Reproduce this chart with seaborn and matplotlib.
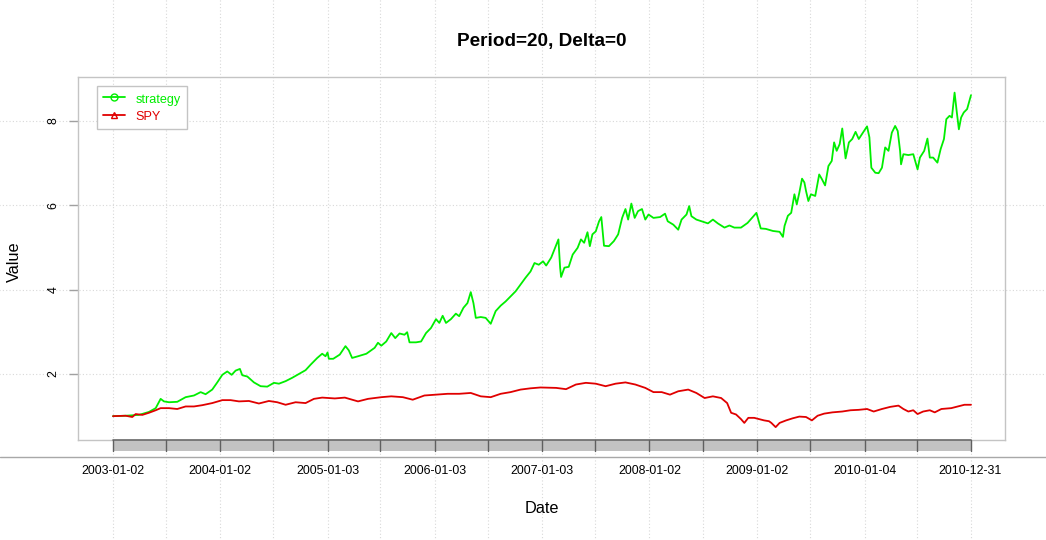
import pandas as pd
import seaborn as sns
import matplotlib.pyplot as plt
from matplotlib.lines import Line2D
from matplotlib.patches import Rectangle

# values (x as decimal years)
strategy_t = [2003.000, 2003.118, 2003.242, 2003.335, 2003.398, 2003.444, 2003.475, 2003.522, 2003.599, 2003.677,
              2003.755, 2003.817, 2003.863, 2003.925, 2003.972, 2004.019, 2004.065, 2004.106, 2004.143, 2004.183,
              2004.205, 2004.252, 2004.314, 2004.376, 2004.438, 2004.500, 2004.547, 2004.609, 2004.671, 2004.733,
              2004.795, 2004.842, 2004.904, 2004.950, 2004.981, 2005.000, 2005.012, 2005.053, 2005.114, 2005.167,
              2005.198, 2005.229, 2005.284, 2005.362, 2005.439, 2005.470, 2005.501, 2005.547, 2005.594, 2005.631,
              2005.671, 2005.717, 2005.742, 2005.764, 2005.825, 2005.872, 2005.918, 2005.964, 2006.011, 2006.042,
              2006.073, 2006.104, 2006.150, 2006.196, 2006.227, 2006.267, 2006.304, 2006.335, 2006.360, 2006.382,
              2006.428, 2006.474, 2006.521, 2006.567, 2006.614, 2006.660, 2006.706, 2006.753, 2006.799, 2006.845,
              2006.892, 2006.929, 2006.969, 2007.009, 2007.038, 2007.085, 2007.115, 2007.152, 2007.168, 2007.177,
              2007.208, 2007.248, 2007.285, 2007.331, 2007.362, 2007.392, 2007.423, 2007.445, 2007.469, 2007.500,
              2007.531, 2007.552, 2007.577, 2007.623, 2007.669, 2007.709, 2007.746, 2007.777, 2007.802, 2007.832,
              2007.863, 2007.894, 2007.931, 2007.962, 2007.992, 2008.038, 2008.100, 2008.146, 2008.171, 2008.223,
              2008.269, 2008.300, 2008.346, 2008.371, 2008.392, 2008.438, 2008.485, 2008.546, 2008.592, 2008.638,
              2008.700, 2008.746, 2008.792, 2008.854, 2008.915, 2008.971, 2008.998, 2009.038, 2009.085, 2009.152,
              2009.214, 2009.245, 2009.260, 2009.291, 2009.322, 2009.352, 2009.374, 2009.398, 2009.423, 2009.445,
              2009.460, 2009.482, 2009.506, 2009.546, 2009.583, 2009.608, 2009.638, 2009.669, 2009.700, 2009.722,
              2009.746, 2009.774, 2009.798, 2009.829, 2009.860, 2009.891, 2009.922, 2009.952, 2009.983, 2010.029,
              2010.051, 2010.069, 2010.106, 2010.137, 2010.168, 2010.198, 2010.229, 2010.260, 2010.291, 2010.315,
              2010.337, 2010.346, 2010.368, 2010.414, 2010.460, 2010.500, 2010.522, 2010.562, 2010.592, 2010.614,
              2010.645, 2010.685, 2010.715, 2010.746, 2010.768, 2010.798, 2010.820, 2010.845, 2010.866, 2010.885,
              2010.906, 2010.931, 2010.962, 2010.998]
strategy_v = [1.00, 1.01, 1.03, 1.10, 1.19, 1.41, 1.35, 1.33, 1.34, 1.45,
              1.49, 1.57, 1.52, 1.63, 1.80, 1.98, 2.06, 1.98, 2.08, 2.12,
              1.97, 1.94, 1.80, 1.71, 1.70, 1.79, 1.77, 1.83, 1.91, 2.00,
              2.09, 2.22, 2.38, 2.48, 2.42, 2.51, 2.36, 2.36, 2.46, 2.66,
              2.56, 2.38, 2.42, 2.48, 2.62, 2.74, 2.67, 2.77, 2.97, 2.85,
              2.96, 2.93, 2.99, 2.75, 2.75, 2.77, 2.97, 3.09, 3.30, 3.21,
              3.38, 3.21, 3.30, 3.43, 3.37, 3.57, 3.68, 3.94, 3.68, 3.33,
              3.35, 3.33, 3.19, 3.49, 3.62, 3.72, 3.84, 3.96, 4.12, 4.28,
              4.43, 4.63, 4.59, 4.67, 4.57, 4.76, 4.95, 5.19, 4.52, 4.30,
              4.52, 4.54, 4.83, 4.99, 5.19, 5.11, 5.36, 5.03, 5.31, 5.38,
              5.62, 5.72, 5.04, 5.03, 5.15, 5.31, 5.70, 5.91, 5.66, 6.04,
              5.70, 5.86, 5.91, 5.66, 5.78, 5.70, 5.72, 5.80, 5.62, 5.54,
              5.42, 5.66, 5.78, 5.98, 5.74, 5.66, 5.62, 5.57, 5.66, 5.57,
              5.47, 5.52, 5.47, 5.47, 5.58, 5.74, 5.82, 5.45, 5.44, 5.39,
              5.37, 5.25, 5.51, 5.75, 5.82, 6.26, 6.02, 6.30, 6.63, 6.54,
              6.34, 6.10, 6.26, 6.22, 6.73, 6.62, 6.47, 6.93, 7.05, 7.49,
              7.29, 7.45, 7.82, 7.11, 7.49, 7.57, 7.74, 7.57, 7.69, 7.87,
              7.61, 6.89, 6.77, 6.76, 6.89, 7.37, 7.29, 7.72, 7.88, 7.76,
              7.29, 6.97, 7.21, 7.19, 7.21, 6.85, 7.13, 7.29, 7.58, 7.13,
              7.13, 7.01, 7.33, 7.57, 8.04, 8.12, 8.08, 8.67, 8.20, 7.80,
              8.08, 8.20, 8.28, 8.61]

spy_t = [2003.000, 2003.118, 2003.180, 2003.211, 2003.273, 2003.335, 2003.398, 2003.444, 2003.522, 2003.599,
         2003.677, 2003.755, 2003.832, 2003.925, 2004.019, 2004.096, 2004.174, 2004.267, 2004.360, 2004.453,
         2004.531, 2004.609, 2004.702, 2004.795, 2004.873, 2004.950, 2005.068, 2005.161, 2005.284, 2005.377,
         2005.501, 2005.594, 2005.702, 2005.794, 2005.903, 2006.011, 2006.119, 2006.227, 2006.335, 2006.428,
         2006.521, 2006.614, 2006.706, 2006.799, 2006.892, 2006.985, 2007.131, 2007.223, 2007.315, 2007.408,
         2007.500, 2007.592, 2007.685, 2007.777, 2007.869, 2007.962, 2008.038, 2008.115, 2008.192, 2008.269,
         2008.362, 2008.438, 2008.515, 2008.592, 2008.669, 2008.725, 2008.762, 2008.808, 2008.854, 2008.885,
         2008.922, 2008.977, 2009.023, 2009.069, 2009.115, 2009.137, 2009.177, 2009.214, 2009.275, 2009.337,
         2009.398, 2009.460, 2009.515, 2009.568, 2009.629, 2009.706, 2009.798, 2009.875, 2009.952, 2010.029,
         2010.091, 2010.168, 2010.245, 2010.322, 2010.368, 2010.414, 2010.460, 2010.500, 2010.552, 2010.614,
         2010.660, 2010.722, 2010.814, 2010.875, 2010.937, 2010.998]
spy_v = [1.00, 1.01, 0.98, 1.05, 1.03, 1.08, 1.14, 1.19, 1.19, 1.17,
         1.23, 1.23, 1.26, 1.31, 1.38, 1.38, 1.35, 1.36, 1.30, 1.36,
         1.33, 1.27, 1.33, 1.31, 1.41, 1.44, 1.42, 1.44, 1.35, 1.41,
         1.45, 1.47, 1.45, 1.39, 1.49, 1.51, 1.53, 1.53, 1.55, 1.47,
         1.45, 1.53, 1.57, 1.63, 1.66, 1.68, 1.67, 1.64, 1.75, 1.79,
         1.77, 1.71, 1.77, 1.80, 1.75, 1.67, 1.57, 1.57, 1.51, 1.59,
         1.63, 1.55, 1.43, 1.47, 1.43, 1.31, 1.08, 1.04, 0.93, 0.84,
         0.96, 0.96, 0.93, 0.90, 0.88, 0.84, 0.74, 0.84, 0.90, 0.95,
         0.99, 0.98, 0.90, 1.01, 1.06, 1.09, 1.11, 1.14, 1.15, 1.17,
         1.11, 1.17, 1.22, 1.25, 1.17, 1.11, 1.14, 1.05, 1.11, 1.14,
         1.09, 1.17, 1.19, 1.23, 1.27, 1.27]

tick_labels = ["2003-01-02", "2004-01-02", "2005-01-03", "2006-01-03", "2007-01-03",
               "2008-01-02", "2009-01-02", "2010-01-04", "2010-12-31"]
bar_dates = ["2003-01-02", "2003-07-01", "2004-01-02", "2004-07-01", "2005-01-03", "2005-07-01",
             "2006-01-03", "2006-07-03", "2007-01-03", "2007-07-02", "2008-01-02", "2008-07-01",
             "2009-01-02", "2009-07-01", "2010-01-04", "2010-07-01", "2010-12-31"]
y_ticks = [2, 4, 6, 8]

GREEN = "#00ee00"
RED = "#e00000"


# date string -> decimal year (same scale as the data lists)
def to_year(s):
    ts = pd.Timestamp(s)
    start = pd.Timestamp(year=ts.year, month=1, day=2)
    return ts.year + (ts - start).days / 365.25


df = pd.concat([
    pd.DataFrame({"t": strategy_t, "value": strategy_v, "series": "strategy"}),
    pd.DataFrame({"t": spy_t, "value": spy_v, "series": "SPY"}),
], ignore_index=True)

sns.set_style("white")
plt.rcParams["font.family"] = ["Liberation Sans", "DejaVu Sans"]
plt.rcParams["text.color"] = "black"
plt.rcParams["axes.labelcolor"] = "black"

fig = plt.figure(figsize=(10.46, 5.4), dpi=100)
ax = fig.add_axes([0.0746, 0.1852, 0.8862, 0.6722])

sns.lineplot(data=df, x="t", y="value", hue="series", palette={"strategy": GREEN, "SPY": RED},
             estimator=None, sort=False, linewidth=1.3, legend=False, ax=ax, zorder=3)

ax.set_xlim(2002.674, 2011.315)
ax.set_ylim(0.435, 9.04)

for s in ax.spines.values():
    s.set_color("#c4c4c4")
    s.set_linewidth(1)

# dotted grid running across the whole figure
grid_kw = dict(color="#d8d8d8", linestyle=(0, (1, 2)), linewidth=0.8, clip_on=False, zorder=0)
for y in y_ticks:
    ax.axhline(y, xmin=-0.085, xmax=1.045, **grid_kw)
bar_x = [to_year(d) for d in bar_dates]
for x in bar_x:
    ax.axvline(x, ymin=-0.28, ymax=1.22, **grid_kw)

# grey time bar under the plot box
trans = ax.get_xaxis_transform()
bh = 0.0303
ax.add_patch(Rectangle((bar_x[0], -bh), bar_x[-1] - bar_x[0], bh, transform=trans,
                       facecolor="#c2c2c2", edgecolor="none", clip_on=False, zorder=4))
ax.add_line(Line2D([bar_x[0], bar_x[-1]], [0, 0], transform=trans, color="#6a6a6a",
                   linewidth=1.2, clip_on=False, zorder=5))
for x in bar_x:
    ax.add_line(Line2D([x, x], [-bh, 0], transform=trans, color="#606060",
                       linewidth=1, clip_on=False, zorder=5))
fig.add_artist(Line2D([0, 1], [0.1528, 0.1528], color="#a8a8a8", linewidth=1))

ax.set_xticks([to_year(s) for s in tick_labels], tick_labels)
ax.tick_params(axis="x", length=0, pad=18, labelsize=8.9, labelcolor="black")
ax.set_yticks(y_ticks)
ax.tick_params(axis="y", length=6.5, width=1, color="#a0a0a0", labelsize=8.9, pad=7,
               left=True, labelcolor="black")
plt.setp(ax.get_yticklabels(), rotation=90, va="center")

ax.set_xlabel("Date", fontsize=11.7)
ax.xaxis.set_label_coords(0.5, -0.19)
ax.xaxis.label.set_va("center")
ax.set_ylabel("Value", fontsize=11.7)
ax.yaxis.set_label_coords(-0.069, 0.49)
ax.yaxis.label.set_va("center")
ax.yaxis.label.set_ha("center")

fig.text(0.5177, 0.924, "Period=20, Delta=0", ha="center", va="center",
         fontsize=13.7, fontweight="bold", color="black")

handles = [Line2D([], [], color=GREEN, marker="o", mfc="none", ms=5, lw=1.3),
           Line2D([], [], color=RED, marker="^", mfc="none", ms=5, lw=1.3)]
leg = ax.legend(handles, ["strategy", "SPY"], loc="upper left", bbox_to_anchor=(0.0205, 0.975),
                borderaxespad=0, fancybox=False, edgecolor="#c4c4c4", framealpha=1,
                fontsize=9.1, handlelength=1.8, handletextpad=0.8, handleheight=1.2,
                labelspacing=0.3, borderpad=0.45)
leg.get_frame().set_linewidth(1)
for text, col in zip(leg.get_texts(), [GREEN, RED]):
    text.set_color(col)

fig.savefig("out.png", dpi=100)
